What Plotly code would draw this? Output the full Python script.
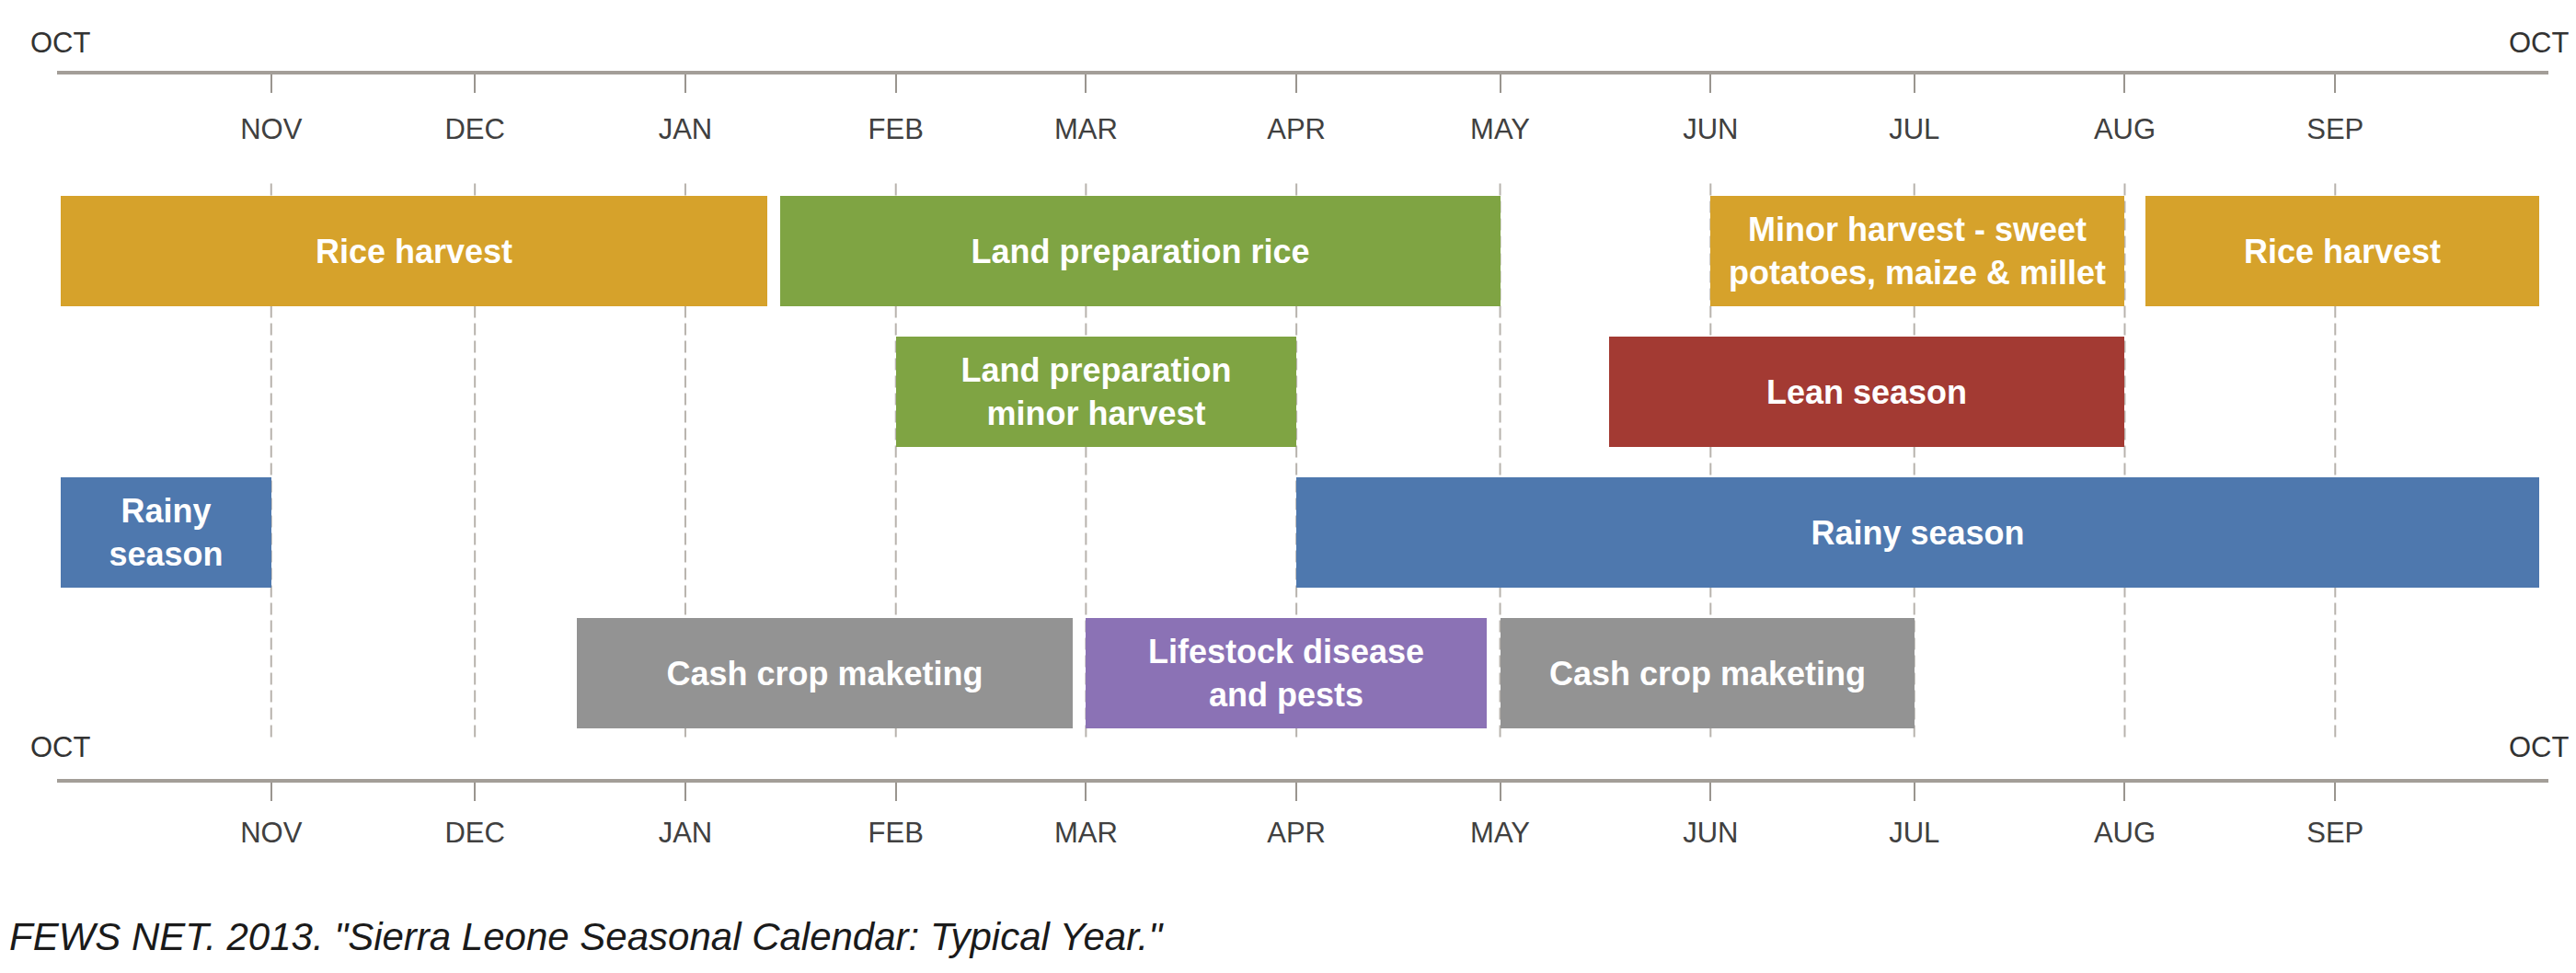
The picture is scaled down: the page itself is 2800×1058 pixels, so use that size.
import pandas as pd
import plotly.graph_objects as go

# ---- data ----
activities = [
    "Rice harvest", "Land preparation rice",
    "Minor harvest - sweet<br>potatoes, maize & millet", "Rice harvest",
    "Land preparation<br>minor harvest", "Lean season",
    "Rainy<br>season", "Rainy season",
    "Cash crop maketing", "Lifestock disease<br>and pests", "Cash crop maketing",
]
lanes = [1, 1, 1, 1, 2, 2, 3, 3, 4, 4, 4]
start_dates = [
    "2012-10-01", "2013-01-15", "2013-06-01", "2013-08-04",
    "2013-02-01", "2013-05-17",
    "2012-10-01", "2013-04-01",
    "2012-12-16", "2013-03-01", "2013-05-01",
]
end_dates = [
    "2013-01-13", "2013-05-01", "2013-08-01", "2013-10-01",
    "2013-04-01", "2013-08-01",
    "2012-11-01", "2013-10-01",
    "2013-02-27", "2013-04-29", "2013-07-01",
]
bar_colors = [
    "#D6A22B", "#7FA443", "#D6A22B", "#D6A22B",
    "#7FA443", "#A33A33",
    "#4E78AE", "#4E78AE",
    "#939393", "#8B72B5", "#939393",
]
month_starts = ["2012-11-01", "2012-12-01", "2013-01-01", "2013-02-01",
                "2013-03-01", "2013-04-01", "2013-05-01", "2013-06-01",
                "2013-07-01", "2013-08-01", "2013-09-01"]
month_labels = ["NOV", "DEC", "JAN", "FEB", "MAR", "APR", "MAY", "JUN",
                "JUL", "AUG", "SEP"]
year_edges = ["2012-10-01", "2013-10-01"]
year_edge_label = "OCT"
caption = 'FEWS NET. 2013. "Sierra Leone Seasonal Calendar: Typical Year."'

# ---- derived ----
starts = pd.to_datetime(start_dates)
ends = pd.to_datetime(end_dates)
durations_ms = [(e - s).total_seconds() * 1000 for s, e in zip(starts, ends)]

FONT = "Liberation Sans, Arial, sans-serif"
AXIS_LINE = "#a39e98"
TICK_COL = "#9a958f"
LABEL_COL = "#404040"

fig = go.Figure()

fig.add_trace(go.Bar(
    orientation="h",
    y=lanes,
    x=durations_ms,
    base=[s.strftime("%Y-%m-%d") for s in starts],
    width=0.785,
    marker=dict(color=bar_colors, line=dict(width=0)),
    text=activities,
    textposition="inside",
    insidetextanchor="middle",
    textangle=0,
    constraintext="none",
    textfont=dict(family=FONT, size=36, color="white", weight=700),
    hoverinfo="skip",
    xaxis="x",
    yaxis="y",
    showlegend=False,
))

# invisible helper so the top axis is drawn
fig.add_trace(go.Scatter(
    x=[month_starts[0]], y=[lanes[0]], mode="markers",
    marker=dict(opacity=0), xaxis="x2", yaxis="y",
    hoverinfo="skip", showlegend=False,
))

x_range = ["2012-09-30 11:00", "2013-10-02 09:36"]

common_axis = dict(
    type="date",
    range=x_range,
    showline=True,
    linewidth=4,
    linecolor=AXIS_LINE,
    tickmode="array",
    tickvals=month_starts,
    ticktext=month_labels,
    ticklen=20,
    tickwidth=2,
    tickcolor=TICK_COL,
    tickfont=dict(family=FONT, size=31, color=LABEL_COL),
    showgrid=False,
    zeroline=False,
    fixedrange=True,
)

# the page body adds an 8px offset, so the figure is 8px smaller
fig.update_layout(
    width=2792,
    height=1050,
    autosize=False,
    margin=dict(l=54, r=30, t=73, b=211, pad=0),
    paper_bgcolor="white",
    plot_bgcolor="white",
    showlegend=False,
    bargap=0,
    xaxis=dict(common_axis, side="bottom", ticks="outside",
               ticklabelstandoff=8),
    xaxis2=dict(common_axis, side="top", overlaying="x", matches="x",
                anchor="y", ticks="inside", ticklabelposition="inside",
                ticklabelstandoff=32),
    yaxis=dict(range=[4.752, -0.255], visible=False, fixedrange=True),
)

# dashed month guides behind the bars
for m in month_starts:
    fig.add_shape(type="line", xref="x", yref="y",
                  x0=m, x1=m, y0=min(lanes) - 0.48, y1=max(lanes) + 0.48,
                  line=dict(color="#b8b3ad", width=2, dash="13px,6px"),
                  layer="below")

# OCT labels at the ends of both axes
for d in year_edges:
    for yy in (1.0444, 0.0444):
        fig.add_annotation(x=d, xref="x", y=yy, yref="paper",
                           text=year_edge_label, showarrow=False,
                           xanchor="center", yanchor="middle",
                           font=dict(family=FONT, size=31, color="#333333"))

fig.add_annotation(x=-0.0199, xref="paper", y=-0.2235, yref="paper",
                   text="<i>" + caption + "</i>", showarrow=False,
                   xanchor="left", yanchor="middle",
                   font=dict(family=FONT, size=42, color="#1a1a1a"))

fig.write_html("out.html")
